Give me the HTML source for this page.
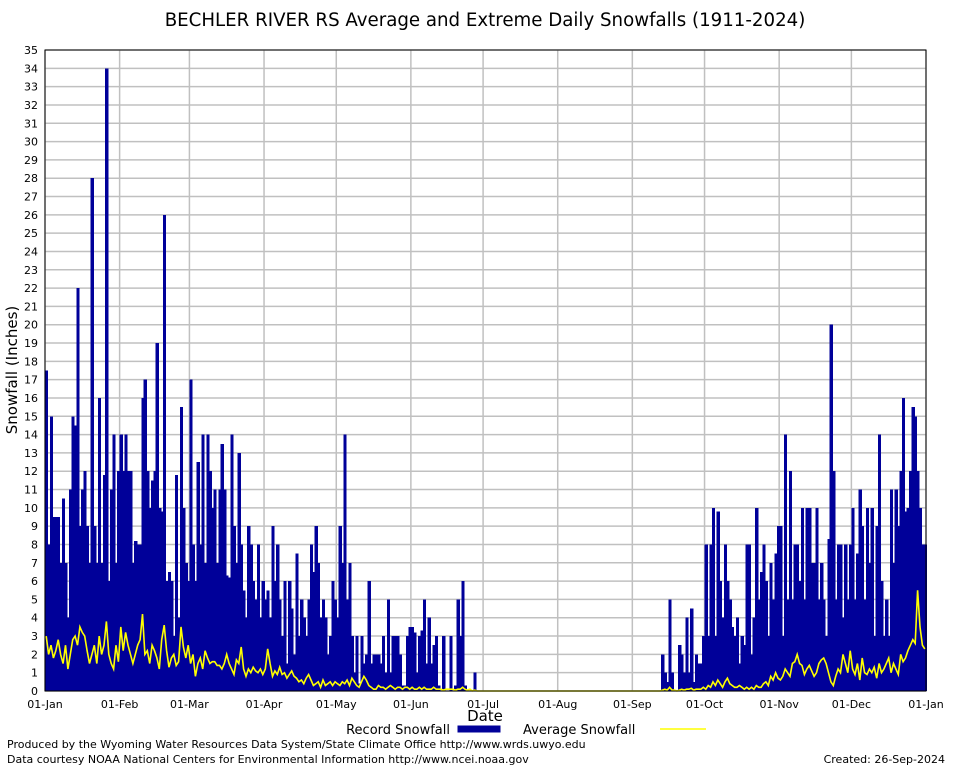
<!DOCTYPE html>
<html><head><meta charset="utf-8"><style>
body{margin:0;background:#fff;}
svg{display:block;font-family:"DejaVu Sans","Liberation Sans",sans-serif;}
</style></head><body>
<svg id="chart" width="954" height="768" viewBox="0 0 954 768" xmlns="http://www.w3.org/2000/svg">
<rect width="954" height="768" fill="#fff"/>
<text x="485" y="26" font-size="18.2" text-anchor="middle">BECHLER RIVER RS Average and Extreme Daily Snowfalls (1911-2024)</text>
<g id="grid"></g>
<g id="bars" shape-rendering="crispEdges"></g>
<g id="avg"></g>
<rect x="45" y="50" width="881" height="641" fill="none" stroke="#000" stroke-width="1"/>
<g id="yticks" font-size="11"></g>
<g id="xticks" font-size="11"></g>
<text transform="translate(17,370) rotate(-90)" font-size="15" text-anchor="middle">Snowfall (Inches)</text>
<text x="485" y="721" font-size="15" text-anchor="middle">Date</text>
<g font-size="13">
<text x="450" y="734" text-anchor="end">Record Snowfall</text>
<rect x="458" y="726" width="42" height="6" fill="#000099" stroke="#000099"/>
<text x="523" y="734">Average Snowfall</text>
<line x1="660" y1="729" x2="706" y2="729" stroke="#ffff00" stroke-width="1.5"/>
</g>
<text x="7" y="748" font-size="11">Produced by the Wyoming Water Resources Data System/State Climate Office http://www.wrds.uwyo.edu</text>
<text x="7" y="763" font-size="11">Data courtesy NOAA National Centers for Environmental Information http://www.ncei.noaa.gov</text>
<text x="945" y="763" font-size="11" text-anchor="end">Created:  26-Sep-2024</text>
</svg>
<script>
const monthLabels=["01-Jan","01-Feb","01-Mar","01-Apr","01-May","01-Jun","01-Jul","01-Aug","01-Sep","01-Oct","01-Nov","01-Dec","01-Jan"];
const monthStarts=[0,31,60,91,121,152,182,213,244,274,305,335,366];
const yTicks=[0,1,2,3,4,5,6,7,8,9,10,11,12,13,14,15,16,17,18,19,20,21,22,23,24,25,26,27,28,29,30,31,32,33,34,35];
const z=n=>Array(n).fill(0);
const recJan=[17.5,8,15,9.5,9.5,9.5,7,10.5,7,4,11,15,14.5,22,9,11,12,9,7,28,9,7,16,7,11.8,34,6,11,14,7,12];
const recFeb=[14,12,14,12,12,7,8.2,8,8,16,17,12,10,11.5,12,19,10,9.8,26,6,6.5,6,3,11.8,4,15.5,10,7,6];
const recMar=[17,8,6,12.5,8,14,7,14,12,10,11,7,11,13.5,11,6.3,6.2,14,9,7,13,8,5.5,4,9,8,6,5,8,4,6];
const recApr=[5,5.5,4,9,6,8,5,3,6,1.5,6,4.5,2,7.5,3,5,4,3,5,8,6.5,9,7,4,5,4,2,3,6,5];
const recMay=[4,9,7,14,5,7,3,1,3,0.4,3,1.5,2,6,1.5,2,2,2,1.5,3,1,5,1,3,3,3,2,0.3,0.3,3,3.5];
const recJun=[3.5,3.2,1,3,3.3,5,1.5,4,1.5,2.5,3,0.3,0,3,0,0,3,0,0.3,5,3,6,0.3,0,0,0,1,0,0,0];
const recJul=z(31), recAug=z(31);
const recSep=z(12).concat([2,1,0.5,5,1,0,0,2.5,2,1,4,1,4.5,0.5,2,1.5,1.5,3]);
const recOct=[8,3,8,10,3,9.8,6,4,8,6,5,3.5,3,4,1.5,3,2.5,8,8,2,4,10,5,6.5,8,6,3,7,5,7.5,9];
const recNov=[9,3,14,5,12,5,8,8,6,10,5,10,10,7,7,10,5,7,5,3,8.3,20,12,5,8,8,4,8,5,8];
const recDec=[10,5,7.5,11,9,5,10,7,10,3,9,14,6,3,5,3,11,7,11,9,12,16,9.8,10,12,15.5,15,12,10,8,8];
const avgJan=[3,2,2.5,1.8,2.2,2.8,2,1.5,2.5,1.2,2,2.8,3,2.5,3.5,3.2,3,2.2,1.5,2,2.5,1.5,3,2,2.5,3.8,2,1.5,1.2,2.5,1.6];
const avgFeb=[3.5,2.2,3.2,2.5,2,1.5,2,2.5,2.8,4.2,2,2.2,1.5,2.5,2.2,1.8,1.2,2.8,3.6,2.2,1.3,1.8,2,1.4,1.6,3.5,2.4,1.8,2.5];
const avgMar=[1.5,2,0.8,1.5,1.8,1.2,2.2,1.8,1.5,1.6,1.6,1.4,1.4,1.2,1.5,2,1.5,1.2,0.9,1.7,1.5,2.4,1.2,0.8,1.2,1.0,1.3,1.1,1.0,1.2,0.9];
const avgApr=[1.2,2.3,1.5,0.8,1.1,0.9,1.3,0.9,1.0,0.7,0.9,1.1,0.8,0.7,0.5,0.6,0.4,0.7,0.9,0.6,0.3,0.4,0.5,0.2,0.6,0.3,0.4,0.5,0.3,0.5];
const avgMay=[0.4,0.3,0.5,0.4,0.6,0.3,0.7,0.5,0.3,0.2,0.5,0.8,0.6,0.3,0.2,0.1,0.1,0.3,0.2,0.2,0.1,0.2,0.3,0.2,0.1,0.2,0.2,0.1,0.2,0.2,0.1];
const avgJun=[0.2,0.1,0.1,0.2,0.1,0.2,0.1,0.1,0.1,0.2,0.1,0.1,0.1,0.05,0.1,0.1,0.1,0.1,0.05,0.1,0.1,0.2,0.1,0.05,0.1,0,0.05,0,0,0];
const avgJul=z(31), avgAug=z(31);
const avgSep=z(12).concat([0.05,0.1,0.05,0.2,0.05,0.05,0,0.05,0.1,0.05,0.1,0.1,0.15,0.05,0.1,0.1,0.1,0.2]);
const avgOct=[0.1,0.3,0.2,0.5,0.3,0.6,0.4,0.2,0.5,0.7,0.4,0.3,0.2,0.2,0.3,0.2,0.1,0.2,0.1,0.2,0.1,0.3,0.2,0.2,0.4,0.5,0.3,0.8,0.6,1.0,0.7];
const avgNov=[0.6,0.8,1.2,1.0,0.8,1.5,1.6,2.0,1.5,1.4,0.9,1.2,1.4,1.1,0.8,1.0,1.5,1.7,1.8,1.5,1.0,0.5,0.3,0.8,1.2,1.0,2.0,1.5,1.0,2.2];
const avgDec=[1.2,0.9,1.5,0.6,1.8,1.0,0.9,1.2,1.0,1.3,0.7,1.5,1.0,1.2,1.5,1.8,1.0,1.5,1.2,0.9,2.0,1.6,1.8,2.2,2.5,2.8,2.6,5.5,3.5,2.5,2.3];
const record=[].concat(recJan,recFeb,recMar,recApr,recMay,recJun,recJul,recAug,recSep,recOct,recNov,recDec);
const average=[].concat(avgJan,avgFeb,avgMar,avgApr,avgMay,avgJun,avgJul,avgAug,avgSep,avgOct,avgNov,avgDec);

const NS="http://www.w3.org/2000/svg";
const X0=45,X1=926,Y0=691,Y1=50,NDAYS=366,YMAX=35;
const xs=d=>X0+d*(X1-X0)/NDAYS;
const ys=v=>Y0-v*(Y0-Y1)/YMAX;
function mk(tag,parent,attrs){const e=document.createElementNS(NS,tag);for(const k in attrs)e.setAttribute(k,attrs[k]);parent.appendChild(e);return e;}
const grid=document.getElementById('grid'),bars=document.getElementById('bars'),avgG=document.getElementById('avg');
const yt=document.getElementById('yticks'),xt=document.getElementById('xticks');
yTicks.forEach(v=>{
  const l=mk('line',grid,{x1:X0,x2:X1,y1:ys(v),y2:ys(v),stroke:'#c0c0c0','stroke-width':1.5});
  
  
  const t=mk('text',yt,{x:38,y:ys(v)+4,'text-anchor':'end'});
  
  
  t.textContent=v;
});
monthStarts.forEach((d,i)=>{
  const l=mk('line',grid,{x1:xs(d),x2:xs(d),y1:Y1,y2:Y0,stroke:'#c0c0c0','stroke-width':1.5});
  
  
  const t=mk('text',xt,{x:xs(d),y:708,'text-anchor':'middle'});
  
  
  t.textContent=monthLabels[i];
});
const w=(X1-X0)/NDAYS;
record.forEach((v,i)=>{
  if(v<=0)return;
  const r=mk('rect',bars,{x:xs(i),y:ys(v),width:w+0.8,height:Y0-ys(v),fill:'#000099'});
  
  
});
const pts=average.map((v,i)=>xs(i+0.5).toFixed(1)+','+ys(v).toFixed(1)).join(' ');
const pl=mk('polyline',avgG,{points:pts,fill:'none',stroke:'#ffff00','stroke-width':1.6});


</script>
</body></html>
